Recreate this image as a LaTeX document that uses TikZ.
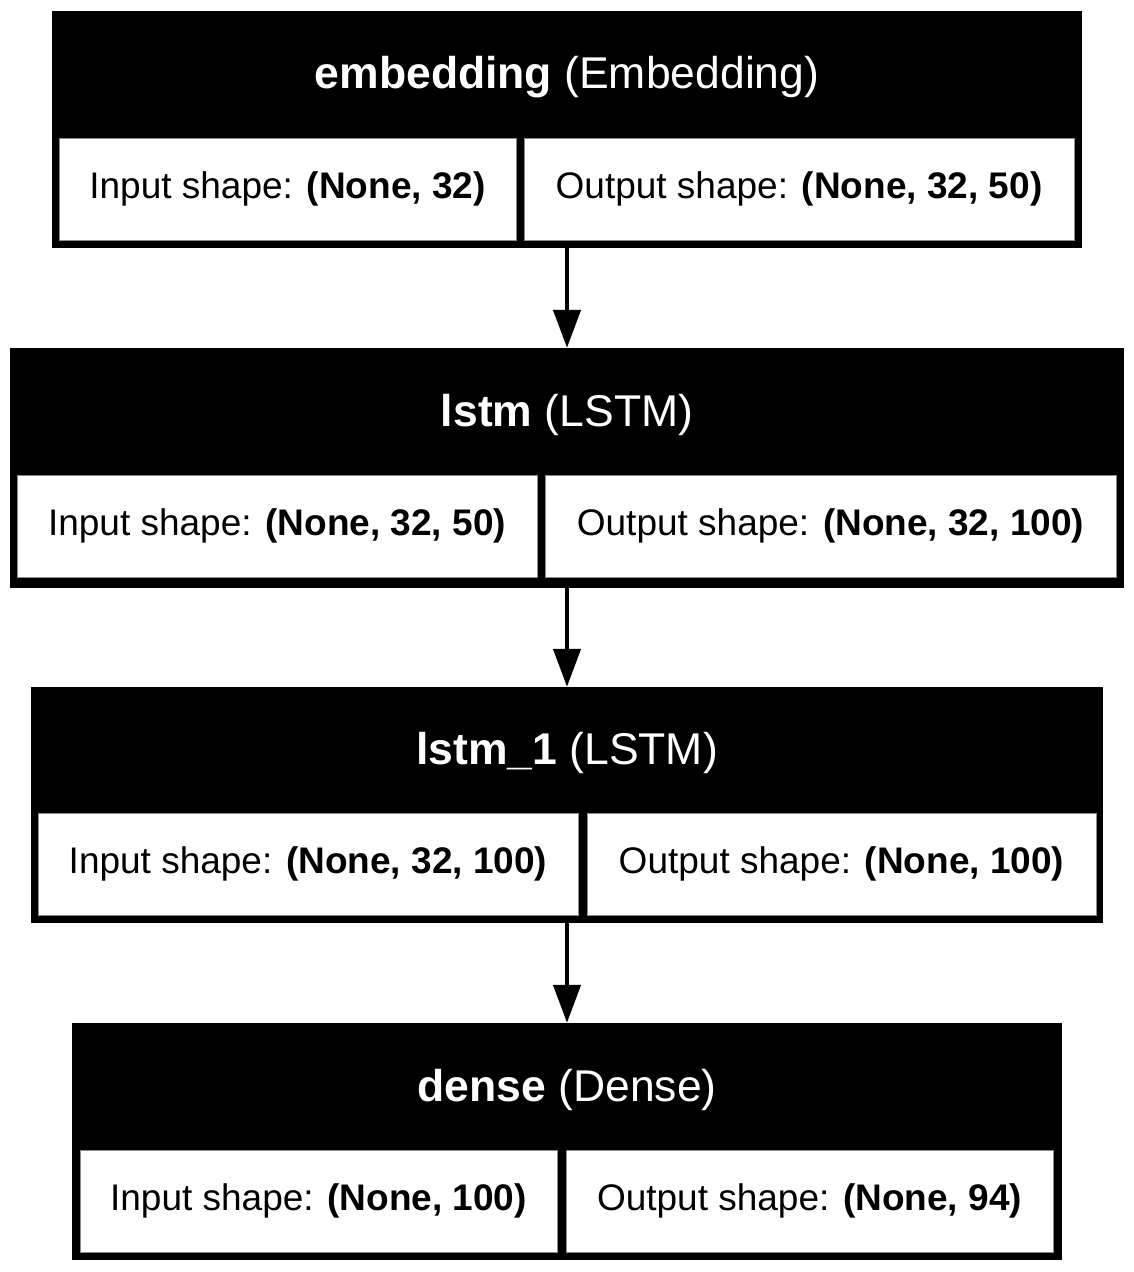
\documentclass[tikz,border=0pt]{standalone}
\usepackage{fontspec}
\setmainfont{Liberation Sans}
\usetikzlibrary{arrows.meta}
\tikzset{
  blk/.style={rectangle, fill=black, draw=none, inner sep=0pt},
  cell/.style={rectangle, fill=white, draw=black!45, line width=0.6pt, inner sep=0pt, minimum height=102pt, font=\fontsize{37}{44}\selectfont, text=black},
  head/.style={inner sep=0pt, text=white, font=\fontsize{44.5}{52}\selectfont},
  conn/.style={line width=4.5pt, -{Triangle[length=38pt,width=27pt]}}
}
\begin{document}
\begin{tikzpicture}[x=1pt,y=-1pt]
\useasboundingbox (0,0) rectangle (1134,1272);
% block 1
\node[blk, minimum width=1030pt, minimum height=237pt] (b1) at (567,129.5) {};
\node[head] (h1) at (567,77.5) {\textbf{embedding} (Embedding)};
\node[cell, minimum width=457pt] (i1) at (287.5,189) {\raisebox{-2pt}{Input shape: \textbf{(None, 32)}}};
\node[cell, minimum width=550pt] (o1) at (799,189) {\raisebox{-2pt}{Output shape: \textbf{(None, 32, 50)}}};
% block 2
\node[blk, minimum width=1114pt, minimum height=240pt] (b2) at (567,468) {};
\node[head] (h2) at (567,414.5) {\textbf{lstm} (LSTM)};
\node[cell, minimum width=520pt] (i2) at (277,526) {\raisebox{-2pt}{Input shape: \textbf{(None, 32, 50)}}};
\node[cell, minimum width=571pt] (o2) at (830.5,526) {\raisebox{-2pt}{Output shape: \textbf{(None, 32, 100)}}};
% block 3
\node[blk, minimum width=1072pt, minimum height=236pt] (b3) at (567,805) {};
\node[head] (h3) at (567,752.5) {\textbf{lstm\_1} (LSTM)};
\node[cell, minimum width=540pt] (i3) at (308,864) {\raisebox{-2pt}{Input shape: \textbf{(None, 32, 100)}}};
\node[cell, minimum width=509pt] (o3) at (841.5,864) {\raisebox{-2pt}{Output shape: \textbf{(None, 100)}}};
% block 4
\node[blk, minimum width=990pt, minimum height=237pt] (b4) at (567,1141.5) {};
\node[head] (h4) at (567,1089.5) {\textbf{dense} (Dense)};
\node[cell, minimum width=477pt] (i4) at (318.5,1201) {\raisebox{-2pt}{Input shape: \textbf{(None, 100)}}};
\node[cell, minimum width=487pt] (o4) at (809.5,1201) {\raisebox{-2pt}{Output shape: \textbf{(None, 94)}}};
% connectors
\draw[conn] (b1.south) -- (b2.north);
\draw[conn] (b2.south) -- (b3.north);
\draw[conn] (b3.south) -- (b4.north);
\end{tikzpicture}
\end{document}
